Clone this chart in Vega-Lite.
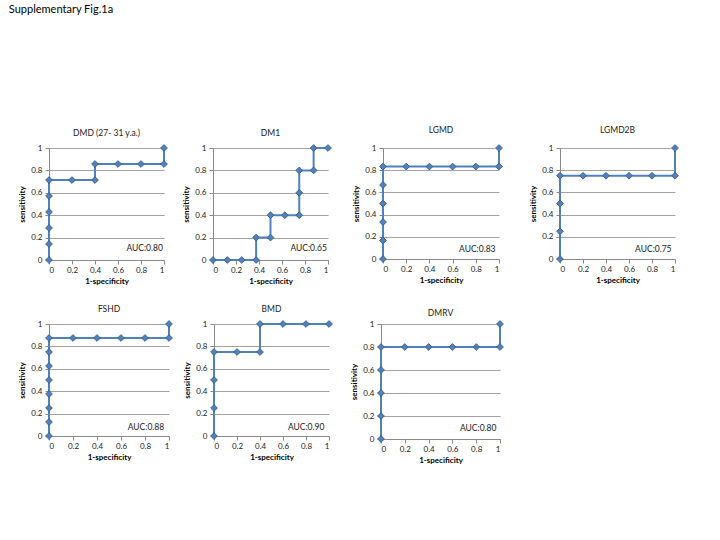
{
  "$schema": "https://vega.github.io/schema/vega-lite/v6.json",
  "padding": {"left": 8, "top": 4, "right": 5, "bottom": 5},
  "title": {"text": "Supplementary Fig.1a", "anchor": "start", "frame": "bounds", "fontSize": 11, "font": "Lato", "fontWeight": "normal", "color": "#000000", "offset": 111, "dx": -10},
  "datasets": {
    "roc": [
      {"panel": "DMD", "i": 1, "fpr": 0, "tpr": 0},
      {"panel": "DMD", "i": 2, "fpr": 0, "tpr": 0.143},
      {"panel": "DMD", "i": 3, "fpr": 0, "tpr": 0.286},
      {"panel": "DMD", "i": 4, "fpr": 0, "tpr": 0.429},
      {"panel": "DMD", "i": 5, "fpr": 0, "tpr": 0.571},
      {"panel": "DMD", "i": 6, "fpr": 0, "tpr": 0.714},
      {"panel": "DMD", "i": 7, "fpr": 0.2, "tpr": 0.714},
      {"panel": "DMD", "i": 8, "fpr": 0.4, "tpr": 0.714},
      {"panel": "DMD", "i": 9, "fpr": 0.4, "tpr": 0.857},
      {"panel": "DMD", "i": 10, "fpr": 0.6, "tpr": 0.857},
      {"panel": "DMD", "i": 11, "fpr": 0.8, "tpr": 0.857},
      {"panel": "DMD", "i": 12, "fpr": 1, "tpr": 0.857},
      {"panel": "DMD", "i": 13, "fpr": 1, "tpr": 1},
      {"panel": "DM1", "i": 1, "fpr": 0, "tpr": 0},
      {"panel": "DM1", "i": 2, "fpr": 0.125, "tpr": 0},
      {"panel": "DM1", "i": 3, "fpr": 0.25, "tpr": 0},
      {"panel": "DM1", "i": 4, "fpr": 0.375, "tpr": 0},
      {"panel": "DM1", "i": 5, "fpr": 0.375, "tpr": 0.2},
      {"panel": "DM1", "i": 6, "fpr": 0.5, "tpr": 0.2},
      {"panel": "DM1", "i": 7, "fpr": 0.5, "tpr": 0.4},
      {"panel": "DM1", "i": 8, "fpr": 0.625, "tpr": 0.4},
      {"panel": "DM1", "i": 9, "fpr": 0.75, "tpr": 0.4},
      {"panel": "DM1", "i": 10, "fpr": 0.75, "tpr": 0.6},
      {"panel": "DM1", "i": 11, "fpr": 0.75, "tpr": 0.8},
      {"panel": "DM1", "i": 12, "fpr": 0.875, "tpr": 0.8},
      {"panel": "DM1", "i": 13, "fpr": 0.875, "tpr": 1},
      {"panel": "DM1", "i": 14, "fpr": 1, "tpr": 1},
      {"panel": "LGMD", "i": 1, "fpr": 0, "tpr": 0},
      {"panel": "LGMD", "i": 2, "fpr": 0, "tpr": 0.167},
      {"panel": "LGMD", "i": 3, "fpr": 0, "tpr": 0.333},
      {"panel": "LGMD", "i": 4, "fpr": 0, "tpr": 0.5},
      {"panel": "LGMD", "i": 5, "fpr": 0, "tpr": 0.667},
      {"panel": "LGMD", "i": 6, "fpr": 0, "tpr": 0.833},
      {"panel": "LGMD", "i": 7, "fpr": 0.2, "tpr": 0.833},
      {"panel": "LGMD", "i": 8, "fpr": 0.4, "tpr": 0.833},
      {"panel": "LGMD", "i": 9, "fpr": 0.6, "tpr": 0.833},
      {"panel": "LGMD", "i": 10, "fpr": 0.8, "tpr": 0.833},
      {"panel": "LGMD", "i": 11, "fpr": 1, "tpr": 0.833},
      {"panel": "LGMD", "i": 12, "fpr": 1, "tpr": 1},
      {"panel": "LGMD2B", "i": 1, "fpr": 0, "tpr": 0},
      {"panel": "LGMD2B", "i": 2, "fpr": 0, "tpr": 0.25},
      {"panel": "LGMD2B", "i": 3, "fpr": 0, "tpr": 0.5},
      {"panel": "LGMD2B", "i": 4, "fpr": 0, "tpr": 0.75},
      {"panel": "LGMD2B", "i": 5, "fpr": 0.2, "tpr": 0.75},
      {"panel": "LGMD2B", "i": 6, "fpr": 0.4, "tpr": 0.75},
      {"panel": "LGMD2B", "i": 7, "fpr": 0.6, "tpr": 0.75},
      {"panel": "LGMD2B", "i": 8, "fpr": 0.8, "tpr": 0.75},
      {"panel": "LGMD2B", "i": 9, "fpr": 1, "tpr": 0.75},
      {"panel": "LGMD2B", "i": 10, "fpr": 1, "tpr": 1},
      {"panel": "FSHD", "i": 1, "fpr": 0, "tpr": 0},
      {"panel": "FSHD", "i": 2, "fpr": 0, "tpr": 0.125},
      {"panel": "FSHD", "i": 3, "fpr": 0, "tpr": 0.25},
      {"panel": "FSHD", "i": 4, "fpr": 0, "tpr": 0.375},
      {"panel": "FSHD", "i": 5, "fpr": 0, "tpr": 0.5},
      {"panel": "FSHD", "i": 6, "fpr": 0, "tpr": 0.625},
      {"panel": "FSHD", "i": 7, "fpr": 0, "tpr": 0.75},
      {"panel": "FSHD", "i": 8, "fpr": 0, "tpr": 0.875},
      {"panel": "FSHD", "i": 9, "fpr": 0.2, "tpr": 0.875},
      {"panel": "FSHD", "i": 10, "fpr": 0.4, "tpr": 0.875},
      {"panel": "FSHD", "i": 11, "fpr": 0.6, "tpr": 0.875},
      {"panel": "FSHD", "i": 12, "fpr": 0.8, "tpr": 0.875},
      {"panel": "FSHD", "i": 13, "fpr": 1, "tpr": 0.875},
      {"panel": "FSHD", "i": 14, "fpr": 1, "tpr": 1},
      {"panel": "BMD", "i": 1, "fpr": 0, "tpr": 0},
      {"panel": "BMD", "i": 2, "fpr": 0, "tpr": 0.25},
      {"panel": "BMD", "i": 3, "fpr": 0, "tpr": 0.5},
      {"panel": "BMD", "i": 4, "fpr": 0, "tpr": 0.75},
      {"panel": "BMD", "i": 5, "fpr": 0.2, "tpr": 0.75},
      {"panel": "BMD", "i": 6, "fpr": 0.4, "tpr": 0.75},
      {"panel": "BMD", "i": 7, "fpr": 0.4, "tpr": 1},
      {"panel": "BMD", "i": 8, "fpr": 0.6, "tpr": 1},
      {"panel": "BMD", "i": 9, "fpr": 0.8, "tpr": 1},
      {"panel": "BMD", "i": 10, "fpr": 1, "tpr": 1},
      {"panel": "DMRV", "i": 1, "fpr": 0, "tpr": 0},
      {"panel": "DMRV", "i": 2, "fpr": 0, "tpr": 0.2},
      {"panel": "DMRV", "i": 3, "fpr": 0, "tpr": 0.4},
      {"panel": "DMRV", "i": 4, "fpr": 0, "tpr": 0.6},
      {"panel": "DMRV", "i": 5, "fpr": 0, "tpr": 0.8},
      {"panel": "DMRV", "i": 6, "fpr": 0.2, "tpr": 0.8},
      {"panel": "DMRV", "i": 7, "fpr": 0.4, "tpr": 0.8},
      {"panel": "DMRV", "i": 8, "fpr": 0.6, "tpr": 0.8},
      {"panel": "DMRV", "i": 9, "fpr": 0.8, "tpr": 0.8},
      {"panel": "DMRV", "i": 10, "fpr": 1, "tpr": 0.8},
      {"panel": "DMRV", "i": 11, "fpr": 1, "tpr": 1}
    ],
    "auc": [
      {"panel": "DMD", "label": "AUC:0.80"},
      {"panel": "DM1", "label": "AUC:0.65"},
      {"panel": "LGMD", "label": "AUC:0.83"},
      {"panel": "LGMD2B", "label": "AUC:0.75"},
      {"panel": "FSHD", "label": "AUC:0.88"},
      {"panel": "BMD", "label": "AUC:0.90"},
      {"panel": "DMRV", "label": "AUC:0.80"}
    ]
  },
  "config": {
    "font": "Lato",
    "view": {"stroke": null},
    "title": {"fontSize": 8.5, "fontWeight": "normal", "font": "Lato", "color": "#222222", "offset": 5},
    "axis": {
      "labelFont": "Lato", "labelFontSize": 8, "labelColor": "#222222", "labelOverlap": false, "format": "~g", "tickCount": 12,
      "titleFont": "Lato", "titleFontSize": 8, "titleFontWeight": "bold", "titleColor": "#000000",
      "domainColor": "#8a8a8a", "tickColor": "#8a8a8a", "tickSize": 4,
      "gridColor": "#8c8c8c", "gridWidth": 0.8
    },
    "axisX": {"grid": false, "titlePadding": 3, "labelPadding": 2},
    "axisY": {"grid": true, "titlePadding": 4, "labelPadding": 3},
    "concat": {"spacing": 16}
  },
  "vconcat": [
    {
      "spacing": 18,
      "hconcat": [
        {
          "spacing": 12,
          "hconcat": [
            {"title": "DMD (27- 31 y.a.)", "width": 115, "height": 112,
             "layer": [
              {"data": {"name": "roc"}, "transform": [{"filter": "datum.panel == 'DMD'"}], "mark": {"type": "line", "color": "#4F81BD", "strokeWidth": 2},
               "encoding": {"x": {"field": "fpr", "type": "quantitative", "title": "1-specificity", "scale": {"domain": [0, 1]}, "axis": {"values": [0, 0.2, 0.4, 0.6, 0.8, 1]}}, "y": {"field": "tpr", "type": "quantitative", "title": "sensitivity", "scale": {"domain": [0, 1]}, "axis": {"values": [0, 0.2, 0.4, 0.6, 0.8, 1]}}, "order": {"field": "i"}}},
              {"data": {"name": "roc"}, "transform": [{"filter": "datum.panel == 'DMD'"}], "mark": {"type": "point", "shape": "diamond", "filled": true, "color": "#4F81BD", "stroke": "#3A6294", "strokeWidth": 1, "size": 45, "opacity": 1},
               "encoding": {"x": {"field": "fpr", "type": "quantitative"}, "y": {"field": "tpr", "type": "quantitative"}}},
              {"data": {"name": "auc"}, "transform": [{"filter": "datum.panel == 'DMD'"}], "mark": {"type": "text", "align": "right", "fontSize": 8.5, "color": "#222222"},
               "encoding": {"x": {"datum": 0.99}, "y": {"datum": 0.11}, "text": {"field": "label"}}}
             ]},
            {"title": "DM1", "width": 115, "height": 112,
             "layer": [
              {"data": {"name": "roc"}, "transform": [{"filter": "datum.panel == 'DM1'"}], "mark": {"type": "line", "color": "#4F81BD", "strokeWidth": 2},
               "encoding": {"x": {"field": "fpr", "type": "quantitative", "title": "1-specificity", "scale": {"domain": [0, 1]}, "axis": {"values": [0, 0.2, 0.4, 0.6, 0.8, 1]}}, "y": {"field": "tpr", "type": "quantitative", "title": "sensitivity", "scale": {"domain": [0, 1]}, "axis": {"values": [0, 0.2, 0.4, 0.6, 0.8, 1]}}, "order": {"field": "i"}}},
              {"data": {"name": "roc"}, "transform": [{"filter": "datum.panel == 'DM1'"}], "mark": {"type": "point", "shape": "diamond", "filled": true, "color": "#4F81BD", "stroke": "#3A6294", "strokeWidth": 1, "size": 45, "opacity": 1},
               "encoding": {"x": {"field": "fpr", "type": "quantitative"}, "y": {"field": "tpr", "type": "quantitative"}}},
              {"data": {"name": "auc"}, "transform": [{"filter": "datum.panel == 'DM1'"}], "mark": {"type": "text", "align": "right", "fontSize": 8.5, "color": "#222222"},
               "encoding": {"x": {"datum": 0.99}, "y": {"datum": 0.11}, "text": {"field": "label"}}}
             ]}
          ]
        },
        {
          "spacing": 24,
          "hconcat": [
            {"title": {"text": "LGMD", "offset": 8}, "width": 116, "height": 111,
             "layer": [
              {"data": {"name": "roc"}, "transform": [{"filter": "datum.panel == 'LGMD'"}], "mark": {"type": "line", "color": "#4F81BD", "strokeWidth": 2},
               "encoding": {"x": {"field": "fpr", "type": "quantitative", "title": "1-specificity", "scale": {"domain": [0, 1]}, "axis": {"values": [0, 0.2, 0.4, 0.6, 0.8, 1]}}, "y": {"field": "tpr", "type": "quantitative", "title": "sensitivity", "scale": {"domain": [0, 1]}, "axis": {"values": [0, 0.2, 0.4, 0.6, 0.8, 1]}}, "order": {"field": "i"}}},
              {"data": {"name": "roc"}, "transform": [{"filter": "datum.panel == 'LGMD'"}], "mark": {"type": "point", "shape": "diamond", "filled": true, "color": "#4F81BD", "stroke": "#3A6294", "strokeWidth": 1, "size": 45, "opacity": 1},
               "encoding": {"x": {"field": "fpr", "type": "quantitative"}, "y": {"field": "tpr", "type": "quantitative"}}},
              {"data": {"name": "auc"}, "transform": [{"filter": "datum.panel == 'LGMD'"}], "mark": {"type": "text", "align": "right", "fontSize": 8.5, "color": "#222222"},
               "encoding": {"x": {"datum": 0.97}, "y": {"datum": 0.09}, "text": {"field": "label"}}}
             ]},
            {"title": {"text": "LGMD2B", "offset": 8}, "width": 115, "height": 111,
             "layer": [
              {"data": {"name": "roc"}, "transform": [{"filter": "datum.panel == 'LGMD2B'"}], "mark": {"type": "line", "color": "#4F81BD", "strokeWidth": 2},
               "encoding": {"x": {"field": "fpr", "type": "quantitative", "title": "1-specificity", "scale": {"domain": [0, 1]}, "axis": {"values": [0, 0.2, 0.4, 0.6, 0.8, 1]}}, "y": {"field": "tpr", "type": "quantitative", "title": "sensitivity", "scale": {"domain": [0, 1]}, "axis": {"values": [0, 0.2, 0.4, 0.6, 0.8, 1]}}, "order": {"field": "i"}}},
              {"data": {"name": "roc"}, "transform": [{"filter": "datum.panel == 'LGMD2B'"}], "mark": {"type": "point", "shape": "diamond", "filled": true, "color": "#4F81BD", "stroke": "#3A6294", "strokeWidth": 1, "size": 45, "opacity": 1},
               "encoding": {"x": {"field": "fpr", "type": "quantitative"}, "y": {"field": "tpr", "type": "quantitative"}}},
              {"data": {"name": "auc"}, "transform": [{"filter": "datum.panel == 'LGMD2B'"}], "mark": {"type": "text", "align": "right", "fontSize": 8.5, "color": "#222222"},
               "encoding": {"x": {"datum": 0.97}, "y": {"datum": 0.09}, "text": {"field": "label"}}}
             ]}
          ]
        }
      ]
    },
    {
      "spacing": 15,
      "hconcat": [
        {
          "spacing": 8,
          "hconcat": [
            {"title": "FSHD", "width": 120, "height": 112,
             "layer": [
              {"data": {"name": "roc"}, "transform": [{"filter": "datum.panel == 'FSHD'"}], "mark": {"type": "line", "color": "#4F81BD", "strokeWidth": 2},
               "encoding": {"x": {"field": "fpr", "type": "quantitative", "title": "1-specificity", "scale": {"domain": [0, 1]}, "axis": {"values": [0, 0.2, 0.4, 0.6, 0.8, 1]}}, "y": {"field": "tpr", "type": "quantitative", "title": "sensitivity", "scale": {"domain": [0, 1]}, "axis": {"values": [0, 0.2, 0.4, 0.6, 0.8, 1]}}, "order": {"field": "i"}}},
              {"data": {"name": "roc"}, "transform": [{"filter": "datum.panel == 'FSHD'"}], "mark": {"type": "point", "shape": "diamond", "filled": true, "color": "#4F81BD", "stroke": "#3A6294", "strokeWidth": 1, "size": 45, "opacity": 1},
               "encoding": {"x": {"field": "fpr", "type": "quantitative"}, "y": {"field": "tpr", "type": "quantitative"}}},
              {"data": {"name": "auc"}, "transform": [{"filter": "datum.panel == 'FSHD'"}], "mark": {"type": "text", "align": "right", "fontSize": 8.5, "color": "#222222"},
               "encoding": {"x": {"datum": 0.96}, "y": {"datum": 0.08}, "text": {"field": "label"}}}
             ]},
            {"title": "BMD", "width": 115, "height": 112,
             "layer": [
              {"data": {"name": "roc"}, "transform": [{"filter": "datum.panel == 'BMD'"}], "mark": {"type": "line", "color": "#4F81BD", "strokeWidth": 2},
               "encoding": {"x": {"field": "fpr", "type": "quantitative", "title": "1-specificity", "scale": {"domain": [0, 1]}, "axis": {"values": [0, 0.2, 0.4, 0.6, 0.8, 1]}}, "y": {"field": "tpr", "type": "quantitative", "title": "sensitivity", "scale": {"domain": [0, 1]}, "axis": {"values": [0, 0.2, 0.4, 0.6, 0.8, 1]}}, "order": {"field": "i"}}},
              {"data": {"name": "roc"}, "transform": [{"filter": "datum.panel == 'BMD'"}], "mark": {"type": "point", "shape": "diamond", "filled": true, "color": "#4F81BD", "stroke": "#3A6294", "strokeWidth": 1, "size": 45, "opacity": 1},
               "encoding": {"x": {"field": "fpr", "type": "quantitative"}, "y": {"field": "tpr", "type": "quantitative"}}},
              {"data": {"name": "auc"}, "transform": [{"filter": "datum.panel == 'BMD'"}], "mark": {"type": "text", "align": "right", "fontSize": 8.5, "color": "#222222"},
               "encoding": {"x": {"datum": 0.96}, "y": {"datum": 0.08}, "text": {"field": "label"}}}
             ]}
          ]
        },
        {"title": {"text": "DMRV", "offset": 1}, "width": 119, "height": 115,
         "layer": [
          {"data": {"name": "roc"}, "transform": [{"filter": "datum.panel == 'DMRV'"}], "mark": {"type": "line", "color": "#4F81BD", "strokeWidth": 2},
           "encoding": {"x": {"field": "fpr", "type": "quantitative", "title": "1-specificity", "scale": {"domain": [0, 1]}, "axis": {"values": [0, 0.2, 0.4, 0.6, 0.8, 1]}}, "y": {"field": "tpr", "type": "quantitative", "title": "sensitivity", "scale": {"domain": [0, 1]}, "axis": {"values": [0, 0.2, 0.4, 0.6, 0.8, 1]}}, "order": {"field": "i"}}},
          {"data": {"name": "roc"}, "transform": [{"filter": "datum.panel == 'DMRV'"}], "mark": {"type": "point", "shape": "diamond", "filled": true, "color": "#4F81BD", "stroke": "#3A6294", "strokeWidth": 1, "size": 45, "opacity": 1},
           "encoding": {"x": {"field": "fpr", "type": "quantitative"}, "y": {"field": "tpr", "type": "quantitative"}}},
          {"data": {"name": "auc"}, "transform": [{"filter": "datum.panel == 'DMRV'"}], "mark": {"type": "text", "align": "right", "fontSize": 8.5, "color": "#222222"},
           "encoding": {"x": {"datum": 0.97}, "y": {"datum": 0.1}, "text": {"field": "label"}}}
         ]}
      ]
    }
  ],
  "spacing": 20
}
